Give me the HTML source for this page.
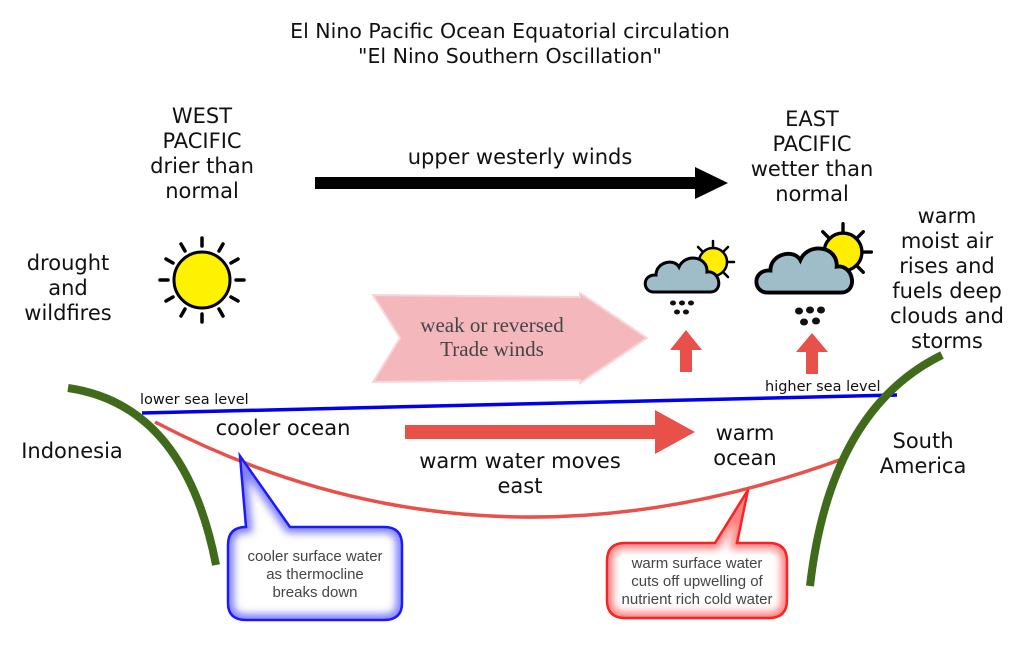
<!DOCTYPE html>
<html><head><meta charset="utf-8"><style>
html,body{margin:0;padding:0;background:#fff;}
svg{display:block;}
text{font-family:"DejaVu Sans","Liberation Sans",sans-serif;fill:#111;}
text.cal{font-family:"Liberation Sans",sans-serif;fill:#444;font-size:15px;}
text.ser{font-family:"Liberation Serif",serif;fill:#444;font-size:21px;}
</style></head><body>
<svg width="1024" height="662" viewBox="0 0 1024 662" xmlns="http://www.w3.org/2000/svg">
<defs>
<filter id="bl" x="-20%" y="-20%" width="140%" height="140%"><feGaussianBlur stdDeviation="4"/></filter>
<path id="pb" d="M246,527 L240,456 L290,527 L384,527 Q402,527 402,545 L402,603 Q402,620 384,620 L246,620 Q228,620 228,603 L228,545 Q228,527 246,527 Z"/>
<path id="pr" d="M625,543 L715,543 L748,490 L737,543 L769,543 Q787,543 787,561 L787,600 Q787,618 769,618 L625,618 Q607,618 607,600 L607,561 Q607,543 625,543 Z"/>
<clipPath id="cb"><use href="#pb"/></clipPath>
<clipPath id="cr"><use href="#pr"/></clipPath>
<g id="cloud">
<path d="M-34,12 C-46,12 -46,-6 -32,-5 C-32,-18 -14,-22 -9,-13 C-3,-27 20,-24 19,-8 C32,-10 36,12 22,12 Z" fill="#9fbdc8" stroke="#000" stroke-width="3"/>
</g>
<g id="sunsm">
<g stroke="#000" stroke-width="2.5" stroke-linecap="round">
<line x1="0" y1="-15" x2="0" y2="-21"/><line x1="10" y1="-10" x2="15" y2="-15"/><line x1="15" y1="0" x2="21" y2="0"/><line x1="10" y1="10" x2="15" y2="15"/><line x1="-10" y1="-10" x2="-15" y2="-15"/><line x1="0" y1="15" x2="0" y2="21"/>
</g>
<circle r="14" fill="#ffee00" stroke="#000" stroke-width="2.5"/>
</g>
</defs>

<text x="510" y="38" text-anchor="middle" font-size="20.5">El Nino Pacific Ocean Equatorial circulation</text>
<text x="510" y="63" text-anchor="middle" font-size="20.5">"El Nino Southern Oscillation"</text>

<g font-size="21" text-anchor="middle">
<text x="202" y="123">WEST</text><text x="202" y="148">PACIFIC</text><text x="202" y="173">drier than</text><text x="202" y="198">normal</text>
<text x="520" y="164">upper westerly winds</text>
<text x="812" y="126">EAST</text><text x="812" y="151">PACIFIC</text><text x="812" y="176">wetter than</text><text x="812" y="201">normal</text>
<text x="947" y="223">warm</text><text x="947" y="248">moist air</text><text x="947" y="273">rises and</text><text x="947" y="298">fuels deep</text><text x="947" y="323">clouds and</text><text x="947" y="348">storms</text>
<text x="68" y="270">drought</text><text x="68" y="295">and</text><text x="68" y="320">wildfires</text>
<text x="72" y="458">Indonesia</text>
<text x="923" y="448">South</text><text x="923" y="473">America</text>
<text x="283" y="435">cooler ocean</text>
<text x="745" y="440">warm</text><text x="745" y="465">ocean</text>
<text x="520" y="468">warm water moves</text><text x="520" y="493">east</text>
</g>

<rect x="315" y="177" width="382" height="12" fill="#000"/>
<polygon points="695,167 728,183 695,199" fill="#000"/>

<g transform="translate(202,280)">
<g stroke="#000" stroke-width="3.5" stroke-linecap="round">
<line x1="0" y1="-34" x2="0" y2="-42"/><line x1="0" y1="34" x2="0" y2="42"/><line x1="34" y1="0" x2="42" y2="0"/><line x1="-34" y1="0" x2="-42" y2="0"/>
<line x1="17" y1="-29" x2="21" y2="-36"/><line x1="29" y1="-17" x2="36" y2="-21"/><line x1="29" y1="17" x2="36" y2="21"/><line x1="17" y1="29" x2="21" y2="36"/>
<line x1="-17" y1="-29" x2="-21" y2="-36"/><line x1="-29" y1="-17" x2="-36" y2="-21"/><line x1="-29" y1="17" x2="-36" y2="21"/><line x1="-17" y1="29" x2="-21" y2="36"/>
</g>
<circle r="28" fill="#fff200" stroke="#000" stroke-width="3"/>
</g>

<polygon points="373,295 580,297 580,293 647,338 580,383 580,380 373,382 400,338" fill="#f4b8bc" stroke="#f8d6d8" stroke-width="2"/>
<text x="492" y="332" text-anchor="middle" class="ser">weak or reversed</text>
<text x="492" y="356" text-anchor="middle" class="ser">Trade winds</text>

<g transform="translate(713,262)"><use href="#sunsm"/></g>
<g transform="translate(688,280)"><use href="#cloud"/></g>
<g fill="#111"><ellipse cx="673" cy="303" rx="3" ry="2.5"/><ellipse cx="682" cy="303" rx="3" ry="2.5"/><ellipse cx="691" cy="303" rx="3" ry="2.5"/><ellipse cx="677" cy="312" rx="3" ry="2.5"/><ellipse cx="686" cy="312" rx="3" ry="2.5"/></g>
<g transform="translate(843,252) scale(1.35)"><use href="#sunsm"/></g>
<g transform="translate(812,277) scale(1.3)"><use href="#cloud"/></g>
<g fill="#111"><ellipse cx="799" cy="311" rx="4" ry="3.5"/><ellipse cx="810" cy="310" rx="4" ry="3.5"/><ellipse cx="821" cy="310" rx="4" ry="3.5"/><ellipse cx="804" cy="322" rx="4" ry="3.5"/><ellipse cx="816" cy="321" rx="4" ry="3.5"/></g>

<g fill="#e8504a">
<polygon points="686,330 702,350 692,350 692,372 680,372 680,350 670,350"/>
<polygon points="812,333 828,352 818,352 818,374 806,374 806,352 796,352"/>
</g>

<line x1="142" y1="413" x2="897" y2="395" stroke="#0000ee" stroke-width="3.5"/>
<text x="140" y="404" font-size="14.5">lower sea level</text>
<text x="765" y="391" font-size="14.5">higher sea level</text>

<path d="M155,422 Q480,592 845,458" fill="none" stroke="#e8504a" stroke-width="3.5"/>

<path d="M68,388 Q185,405 216,565" fill="none" stroke="#3f6b1a" stroke-width="8"/>
<path d="M942,355 Q830,410 810,586" fill="none" stroke="#3f6b1a" stroke-width="8"/>

<rect x="405" y="425" width="252" height="14" fill="#e8504a"/>
<polygon points="655,410 695,432 655,454" fill="#e8504a"/>

<use href="#pb" fill="#fff"/>
<g clip-path="url(#cb)"><use href="#pb" fill="none" stroke="#8080ff" stroke-width="12" filter="url(#bl)"/></g>
<use href="#pb" fill="none" stroke="#1a1aff" stroke-width="2.5"/>
<text x="315" y="561" text-anchor="middle" class="cal">cooler surface water</text><text x="315" y="579" text-anchor="middle" class="cal">as thermocline</text><text x="315" y="597" text-anchor="middle" class="cal">breaks down</text>

<use href="#pr" fill="#fff"/>
<g clip-path="url(#cr)"><use href="#pr" fill="none" stroke="#ff8080" stroke-width="12" filter="url(#bl)"/></g>
<use href="#pr" fill="none" stroke="#ff2020" stroke-width="2.5"/>
<text x="697" y="568" text-anchor="middle" class="cal">warm surface water</text><text x="697" y="586" text-anchor="middle" class="cal">cuts off upwelling of</text><text x="697" y="604" text-anchor="middle" class="cal">nutrient rich cold water</text>
</svg>
</body></html>
